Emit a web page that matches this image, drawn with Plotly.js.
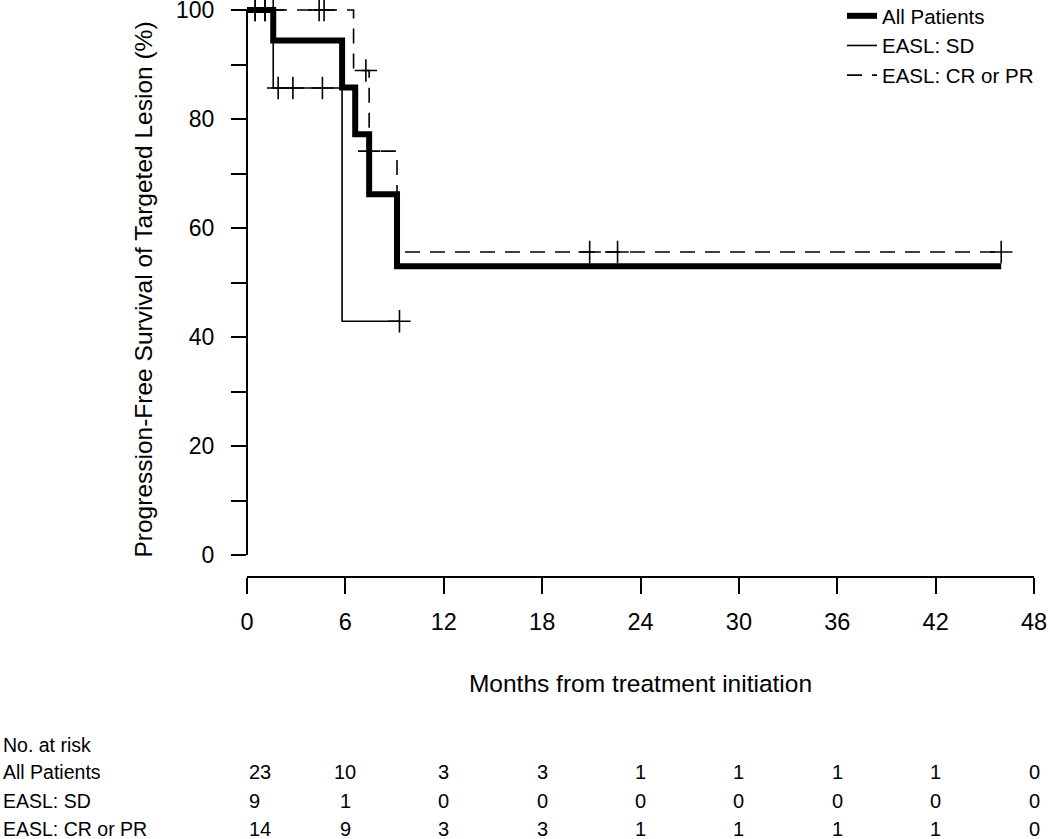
<!DOCTYPE html>
<html>
<head>
<meta charset="utf-8">
<script src="https://cdn.plot.ly/plotly-3.0.1.min.js"></script>
<style>html,body{margin:0;padding:0;background:#fff;}#chart{width:1050px;height:839px;}</style>
</head>
<body>
<div id="chart"></div>
<script>
// ---- data ----
const seriesNames = ["All Patients", "EASL: SD", "EASL: CR or PR"];

const allTime = [0, 1.6, 5.8, 6.6, 7.45, 9.15, 46.0];
const allSurv = [100, 94.4, 85.8, 77.2, 66.2, 53.0, 53.0];

const sdTime = [0, 1.6, 5.8, 9.3];
const sdSurv = [100, 85.7, 42.9, 42.9];
const sdCensTime = [0.5, 1.1, 1.9, 2.8, 4.6, 9.3];
const sdCensSurv = [100, 100, 85.7, 85.7, 85.7, 42.9];

const crTime = [0, 6.5, 7.45, 9.15, 46.0];
const crSurv = [100, 88.9, 74.1, 55.6, 55.6];
const crCensTime = [0.5, 1.1, 1.6, 4.4, 4.7, 7.25, 7.45, 20.9, 22.6, 46.0];
const crCensSurv = [100, 100, 100, 100, 100, 88.9, 74.1, 55.6, 55.6, 55.6];

const xTicks = [0, 6, 12, 18, 24, 30, 36, 42, 48];
const yTicks = [0, 10, 20, 30, 40, 50, 60, 70, 80, 90, 100];
const yTickText = ["0", "", "20", "", "40", "", "60", "", "80", "", "100"];

const riskTimes = [0, 6, 12, 18, 24, 30, 36, 42, 48];
const riskAll = [23, 10, 3, 3, 1, 1, 1, 1, 0];
const riskSD = [9, 1, 0, 0, 0, 0, 0, 0, 0];
const riskCR = [14, 9, 3, 3, 1, 1, 1, 1, 0];

const xTitle = "Months from treatment initiation";
const yTitle = "Progression-Free Survival of Targeted Lesion (%)";
const riskHeader = "No. at risk";

// ---- layout geometry ----
const FONT = "Liberation Sans, Arial, Helvetica, sans-serif";
const W = 1050, H = 839;
const mL = 247, mR = 16, mT = 3, mB = 263;
const plotH = H - mT - mB;           // 573
const plotW = W - mL - mR;           // 787
const py100 = 10, py0 = 555;
const pxPerUnit = (py0 - py100) / 100;
const yMax = 100 + (py100 - mT) / pxPerUnit;
const yMin = -(576 - py0) / pxPerUnit;

function pyToPaper(py) { return (H - mB - py) / plotH; }
function pxToPaper(px) { return (px - mL) / plotW; }

const censorMarker = {symbol: "cross-thin-open", size: 16, line: {width: 1.6, color: "#000"}, color: "#000"};

const traces = [
  {x: allTime, y: allSurv, name: seriesNames[0], mode: "lines", line: {shape: "hv", width: 6, color: "#000"}},
  {x: sdTime, y: sdSurv, name: seriesNames[1], mode: "lines", line: {shape: "hv", width: 1.6, color: "#000"}},
  {x: crTime, y: crSurv, name: seriesNames[2], mode: "lines", line: {shape: "hv", width: 1.6, color: "#000", dash: "15px,10px"}},
  {x: sdCensTime, y: sdCensSurv, mode: "markers", marker: censorMarker, showlegend: false, hoverinfo: "skip", cliponaxis: false},
  {x: crCensTime, y: crCensSurv, mode: "markers", marker: censorMarker, showlegend: false, hoverinfo: "skip", cliponaxis: false}
];

const annotations = [];
const rowLabels = [riskHeader, seriesNames[0], seriesNames[1], seriesNames[2]];
const rowPy = [745, 772, 801, 829];
rowLabels.forEach((t, i) => {
  annotations.push({text: t, xref: "paper", yref: "paper", x: pxToPaper(1), y: pyToPaper(rowPy[i]),
    xanchor: "left", yanchor: "middle", showarrow: false, font: {family: FONT, size: 19.5, color: "#000"}});
});
[riskAll, riskSD, riskCR].forEach((row, r) => {
  row.forEach((v, i) => {
    annotations.push({text: String(v), xref: "x", yref: "paper", x: riskTimes[i], y: pyToPaper(rowPy[r + 1]),
      xanchor: i === 0 ? "left" : "center", yanchor: "middle", showarrow: false,
      font: {family: FONT, size: 20, color: "#000"}});
  });
});

const layout = {
  width: W, height: H,
  margin: {l: mL, r: mR, t: mT, b: mB, pad: 0, autoexpand: false},
  paper_bgcolor: "#fff", plot_bgcolor: "#fff",
  font: {family: FONT, size: 20, color: "#000"},
  showlegend: true,
  legend: {x: pxToPaper(842), y: 1 + 7 / plotH, xanchor: "left", yanchor: "top", bgcolor: "rgba(0,0,0,0)",
    font: {family: FONT, size: 20.5, color: "#000"}, tracegroupgap: 0, itemwidth: 30},
  xaxis: {range: [0, 48], tickvals: xTicks, ticks: "outside", ticklen: 16, tickwidth: 2, tickcolor: "#000",
    showline: true, linewidth: 2, linecolor: "#000", showgrid: false, zeroline: false,
    tickfont: {family: FONT, size: 23.5}, ticklabelstandoff: 8,
    title: {text: xTitle, font: {family: FONT, size: 24.5}, standoff: 41}, automargin: false},
  yaxis: {range: [yMin, yMax], tickvals: yTicks, ticktext: yTickText, ticks: "outside", ticklen: 15, tickwidth: 2,
    tickcolor: "#000", showline: false, showgrid: false, zeroline: false, ticklabeloverflow: "allow",
    tickfont: {family: FONT, size: 23}, ticklabelstandoff: 12,
    title: {text: yTitle, font: {family: FONT, size: 24.5}, standoff: 16}, automargin: false},
  shapes: [
    {type: "line", xref: "paper", yref: "y", x0: 0, x1: 0, y0: 0, y1: 100, line: {width: 2, color: "#000"}}
  ],
  annotations: annotations
};

Plotly.newPlot("chart", traces, layout, {staticPlot: true, displayModeBar: false});
</script>
</body>
</html>
